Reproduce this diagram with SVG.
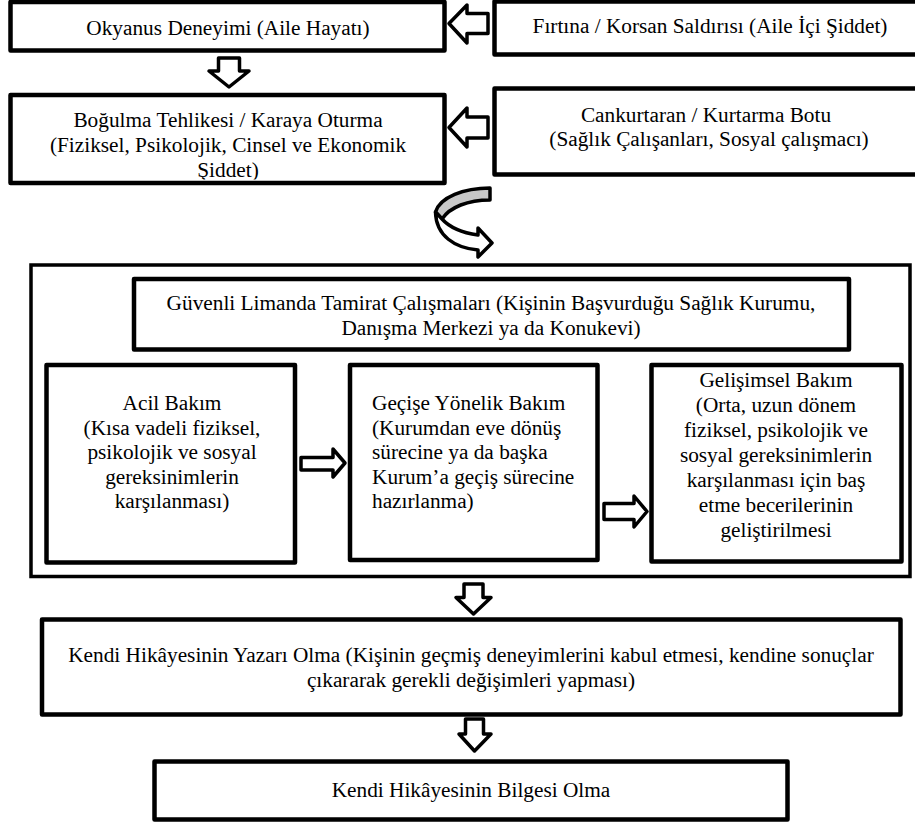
<svg xmlns="http://www.w3.org/2000/svg" width="915" height="825" viewBox="0 0 915 825" font-family="'Liberation Serif', 'Times New Roman', serif" font-size="21.3">
<style>
.box{fill:#fff;stroke:#000;stroke-width:4.5;stroke-linejoin:round}
.outer{fill:#fff;stroke:#000;stroke-width:3.5}
.arr{fill:#fff;stroke:#000;stroke-width:3.5;stroke-linejoin:round}
.c{text-anchor:middle}
</style>
<defs>
<clipPath id="clipB"><rect x="10" y="95" width="436" height="84.5"/></clipPath>
</defs>
<rect width="915" height="825" fill="#fff"/>
<g id="okyanus">
<rect class="box" x="10.5" y="2" width="434" height="48.5"/>
<text class="c" x="228" y="35">Okyanus Deneyimi (Aile Hayatı)</text>
</g>
<g id="firtina">
<rect class="box" x="494.5" y="1.5" width="440" height="53"/>
<text class="c" x="710" y="33">Fırtına / Korsan Saldırısı (Aile İçi Şiddet)</text>
</g>
<g id="bogulma">
<rect class="box" x="10.5" y="95" width="434" height="88"/>
<g clip-path="url(#clipB)">
<text class="c" x="228" y="127">Boğulma Tehlikesi / Karaya Oturma</text>
<text class="c" x="228" y="152">(Fiziksel, Psikolojik, Cinsel ve Ekonomik</text>
<text class="c" x="228" y="177">Şiddet)</text>
</g>
</g>
<g id="cankurtaran">
<rect class="box" x="494.5" y="88.5" width="440" height="86"/>
<text class="c" x="706" y="122">Cankurtaran / Kurtarma Botu</text>
<text class="c" x="709" y="146">(Sağlık Çalışanları, Sosyal çalışmacı)</text>
</g>
<g id="liman">
<rect class="outer" x="31" y="265" width="879" height="311.5"/>
</g>
<g id="guvenli">
<rect class="box" x="134" y="279" width="715" height="70.5"/>
<text class="c" x="491" y="310">Güvenli Limanda Tamirat Çalışmaları (Kişinin Başvurduğu Sağlık Kurumu,</text>
<text class="c" x="491" y="335">Danışma Merkezi ya da Konukevi)</text>
</g>
<g id="acil">
<rect class="box" x="46.5" y="365" width="248.5" height="197.5"/>
<text class="c" x="172" y="410">Acil Bakım</text>
<text class="c" x="172" y="434.5">(Kısa vadeli fiziksel,</text>
<text class="c" x="172" y="459">psikolojik ve sosyal</text>
<text class="c" x="172" y="483.5">gereksinimlerin</text>
<text class="c" x="172" y="508">karşılanması)</text>
</g>
<g id="gecis">
<rect class="box" x="350" y="365" width="247.5" height="195"/>
<text x="372" y="410">Geçişe Yönelik Bakım</text>
<text x="372" y="434.5">(Kurumdan eve dönüş</text>
<text x="372" y="459">sürecine ya da başka</text>
<text x="372" y="483.5">Kurum’a geçiş sürecine</text>
<text x="372" y="508">hazırlanma)</text>
</g>
<g id="gelisimsel">
<rect class="box" x="651.5" y="365" width="250" height="196.5"/>
<text class="c" x="776" y="387">Gelişimsel Bakım</text>
<text class="c" x="776" y="412">(Orta, uzun dönem</text>
<text class="c" x="776" y="437">fiziksel, psikolojik ve</text>
<text class="c" x="776" y="462">sosyal gereksinimlerin</text>
<text class="c" x="776" y="487">karşılanması için baş</text>
<text class="c" x="776" y="512">etme becerilerinin</text>
<text class="c" x="776" y="537">geliştirilmesi</text>
</g>
<g id="yazar">
<rect class="box" x="42" y="619.5" width="858.5" height="95"/>
<text class="c" x="471" y="662">Kendi Hikâyesinin Yazarı Olma (Kişinin geçmiş deneyimlerini kabul etmesi, kendine sonuçlar</text>
<text class="c" x="471" y="687">çıkararak gerekli değişimleri yapması)</text>
</g>
<g id="bilge">
<rect class="box" x="154.5" y="761.5" width="633" height="58"/>
<text class="c" x="471" y="797">Kendi Hikâyesinin Bilgesi Olma</text>
</g>
<g id="connectors">
<polygon class="arr" points="449,23.5 467,5 467,13.5 488,13.5 488,33.5 467,33.5 467,43"/>
<polygon class="arr" points="449,127.5 467,108 467,117 488,117 488,138 467,138 467,147"/>
<polygon class="arr" points="229,87 209,71 218.5,71 218.5,58 239.5,58 239.5,71 249,71"/>
<polygon class="arr" points="301,457.5 333,457.5 333,449 345,463 333,477 333,470 301,470"/>
<polygon class="arr" points="604,503.5 634,503.5 634,496 647,511.5 634,527 634,519.5 604,519.5"/>
<polygon class="arr" points="473.5,614 456,597.5 464,597.5 464,584 483,584 483,597.5 491,597.5"/>
<polygon class="arr" points="474.5,751 459,734 465.5,734 465.5,719 483.5,719 483.5,734 491,734"/>
<g id="curved">
<path d="M490,188 C464,188 440,197 435.5,212 L442,219 C450,207 468,200 490,200 Z" fill="#c8c8c8" stroke="#000" stroke-width="3.5" stroke-linejoin="round"/>
<path d="M442,219 C451,229 464,233 478,235 L478,228 L492,243 L478,257 L478,250 C455,248 436,236 435.5,212 Z" fill="#fff" stroke="#000" stroke-width="3.5" stroke-linejoin="round"/>
</g>
</g>
</svg>
